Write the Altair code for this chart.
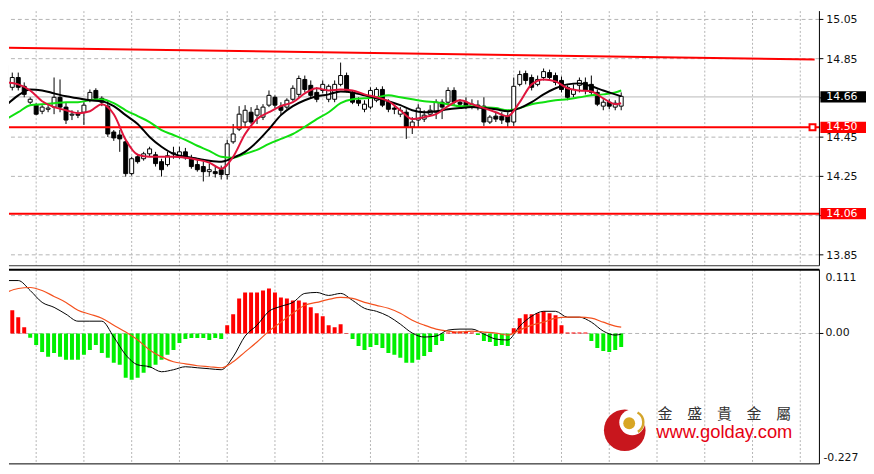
import altair as alt
import pandas as pd

# ---------------- data ----------------
bar_idx = list(range(104))
opens = [14.815, 14.704, 14.754, 14.709, 14.628, 14.613, 14.582, 14.592, 14.603, 14.653,
         14.603, 14.562, 14.567, 14.577, 14.638, 14.688, 14.648, 14.608, 14.476, 14.461,
         14.426, 14.264, 14.350, 14.340, 14.365, 14.360, 14.325, 14.310, 14.365, 14.350,
         14.375, 14.345, 14.310, 14.300, 14.274, 14.274, 14.284, 14.259, 14.426, 14.491,
         14.527, 14.577, 14.562, 14.552, 14.613, 14.653, 14.608, 14.603, 14.643, 14.668,
         14.744, 14.714, 14.678, 14.688, 14.643, 14.643, 14.719, 14.764, 14.678, 14.638,
         14.592, 14.603, 14.638, 14.693, 14.628, 14.598, 14.567, 14.577, 14.502, 14.537,
         14.542, 14.567, 14.577, 14.628, 14.628, 14.688, 14.628, 14.628, 14.603, 14.613,
         14.608, 14.527, 14.557, 14.557, 14.557, 14.527, 14.719, 14.774, 14.754, 14.719,
         14.754, 14.779, 14.764, 14.739, 14.704, 14.668, 14.714, 14.729, 14.719, 14.678,
         14.608, 14.628, 14.603, 14.608]
highs = [14.830, 14.779, 14.779, 14.729, 14.653, 14.623, 14.613, 14.613, 14.754, 14.744,
         14.628, 14.587, 14.587, 14.628, 14.693, 14.699, 14.658, 14.638, 14.486, 14.486,
         14.436, 14.350, 14.365, 14.375, 14.401, 14.375, 14.340, 14.375, 14.401, 14.401,
         14.395, 14.360, 14.335, 14.325, 14.315, 14.300, 14.305, 14.436, 14.517, 14.608,
         14.613, 14.603, 14.613, 14.618, 14.688, 14.663, 14.628, 14.648, 14.714, 14.764,
         14.764, 14.739, 14.704, 14.739, 14.719, 14.739, 14.830, 14.779, 14.688, 14.653,
         14.638, 14.704, 14.704, 14.709, 14.643, 14.613, 14.603, 14.592, 14.552, 14.618,
         14.587, 14.613, 14.643, 14.643, 14.704, 14.704, 14.643, 14.653, 14.643, 14.638,
         14.653, 14.562, 14.577, 14.577, 14.577, 14.754, 14.789, 14.789, 14.769, 14.764,
         14.800, 14.794, 14.779, 14.759, 14.714, 14.719, 14.754, 14.754, 14.764, 14.693,
         14.643, 14.643, 14.638, 14.678]
lows = [14.729, 14.688, 14.688, 14.653, 14.618, 14.562, 14.567, 14.577, 14.567, 14.577,
        14.517, 14.537, 14.547, 14.512, 14.628, 14.638, 14.608, 14.451, 14.431, 14.375,
        14.249, 14.254, 14.315, 14.330, 14.350, 14.300, 14.249, 14.300, 14.340, 14.340,
        14.335, 14.289, 14.274, 14.224, 14.249, 14.244, 14.234, 14.234, 14.416, 14.481,
        14.502, 14.517, 14.517, 14.537, 14.603, 14.598, 14.562, 14.592, 14.633, 14.653,
        14.678, 14.648, 14.628, 14.673, 14.628, 14.628, 14.709, 14.678, 14.618, 14.608,
        14.577, 14.592, 14.628, 14.603, 14.577, 14.567, 14.552, 14.441, 14.466, 14.502,
        14.527, 14.557, 14.542, 14.542, 14.618, 14.613, 14.603, 14.592, 14.592, 14.587,
        14.507, 14.517, 14.527, 14.517, 14.502, 14.507, 14.709, 14.719, 14.688, 14.709,
        14.739, 14.739, 14.714, 14.678, 14.638, 14.653, 14.678, 14.668, 14.663, 14.608,
        14.587, 14.592, 14.587, 14.587]
closes = [14.754, 14.754, 14.704, 14.668, 14.643, 14.567, 14.603, 14.598, 14.653, 14.603,
          14.537, 14.567, 14.562, 14.613, 14.678, 14.648, 14.628, 14.466, 14.446, 14.441,
          14.264, 14.340, 14.325, 14.365, 14.390, 14.315, 14.284, 14.355, 14.370, 14.375,
          14.345, 14.300, 14.284, 14.274, 14.284, 14.264, 14.259, 14.416, 14.466, 14.567,
          14.587, 14.527, 14.592, 14.603, 14.663, 14.613, 14.587, 14.638, 14.699, 14.749,
          14.693, 14.663, 14.643, 14.719, 14.709, 14.719, 14.764, 14.688, 14.628, 14.623,
          14.618, 14.688, 14.693, 14.613, 14.592, 14.592, 14.587, 14.502, 14.527, 14.598,
          14.562, 14.587, 14.628, 14.603, 14.688, 14.628, 14.618, 14.608, 14.618, 14.608,
          14.527, 14.552, 14.542, 14.537, 14.527, 14.709, 14.769, 14.739, 14.704, 14.744,
          14.784, 14.754, 14.729, 14.693, 14.653, 14.693, 14.739, 14.688, 14.678, 14.618,
          14.628, 14.608, 14.623, 14.658]

ma_idx = list(range(0, 103, 2)) + [103]
ma_red = [14.729, 14.719, 14.688, 14.633, 14.603, 14.587, 14.572, 14.582, 14.618, 14.567,
          14.436, 14.360, 14.350, 14.350, 14.350, 14.345, 14.335, 14.320, 14.289, 14.350,
          14.466, 14.542, 14.577, 14.608, 14.628, 14.673, 14.699, 14.688, 14.693, 14.688,
          14.668, 14.653, 14.633, 14.587, 14.542, 14.552, 14.567, 14.608, 14.638, 14.618,
          14.598, 14.577, 14.557, 14.628, 14.719, 14.744, 14.734, 14.699, 14.688, 14.683,
          14.648, 14.618, 14.623]
ma_black = [14.613, 14.663, 14.693, 14.688, 14.673, 14.658, 14.648, 14.638, 14.633, 14.608,
            14.562, 14.517, 14.451, 14.401, 14.365, 14.350, 14.340, 14.330, 14.325, 14.345,
            14.375, 14.426, 14.491, 14.562, 14.608, 14.638, 14.658, 14.668, 14.683, 14.678,
            14.663, 14.648, 14.633, 14.613, 14.587, 14.577, 14.582, 14.592, 14.598, 14.603,
            14.598, 14.592, 14.582, 14.598, 14.628, 14.668, 14.699, 14.719, 14.724, 14.709,
            14.688, 14.668, 14.658]
ma_green = [14.542, 14.577, 14.613, 14.618, 14.623, 14.628, 14.628, 14.638, 14.643, 14.623,
            14.587, 14.557, 14.527, 14.486, 14.461, 14.436, 14.406, 14.380, 14.350, 14.345,
            14.365, 14.385, 14.416, 14.441, 14.466, 14.502, 14.542, 14.577, 14.623, 14.643,
            14.648, 14.653, 14.663, 14.653, 14.643, 14.633, 14.628, 14.618, 14.608, 14.608,
            14.603, 14.598, 14.587, 14.598, 14.618, 14.628, 14.638, 14.643, 14.653, 14.663,
            14.668, 14.678, 14.688]

macd_hist = [0.0404, 0.0404, 0.0283, 0.0110, -0.0074, -0.0200, -0.0321, -0.0407, -0.0338, -0.0407,
             -0.0459, -0.0459, -0.0459, -0.0372, -0.0286, -0.0200, -0.0338, -0.0424, -0.0510, -0.0545,
             -0.0769, -0.0804, -0.0769, -0.0683, -0.0597, -0.0545, -0.0459, -0.0372, -0.0286, -0.0166,
             -0.0097, -0.0079, -0.0079, -0.0079, -0.0114, -0.0079, -0.0097, 0.0145, 0.0335, 0.0610,
             0.0714, 0.0714, 0.0714, 0.0748, 0.0783, 0.0714, 0.0628, 0.0610, 0.0576, 0.0576,
             0.0541, 0.0455, 0.0352, 0.0300, 0.0145, 0.0110, 0.0162, 0.0010, -0.0097, -0.0217,
             -0.0286, -0.0235, -0.0200, -0.0252, -0.0338, -0.0372, -0.0424, -0.0510, -0.0510, -0.0459,
             -0.0390, -0.0321, -0.0200, -0.0131, 0.0015, 0.0024, 0.0033, 0.0024, 0.0015, -0.0028,
             -0.0131, -0.0148, -0.0217, -0.0200, -0.0217, 0.0093, 0.0266, 0.0335, 0.0335, 0.0352,
             0.0386, 0.0352, 0.0317, 0.0145, 0.0015, 0.0015, 0.0015, 0.0015, -0.0131, -0.0252,
             -0.0303, -0.0321, -0.0286, -0.0235]
macd_main = [0.0921, 0.0921, 0.0748, 0.0541, 0.0455, 0.0335, 0.0214, 0.0214, 0.0214, -0.0062,
             -0.0372, -0.0545, -0.0579, -0.0666, -0.0631, -0.0579, -0.0597, -0.0614, -0.0631, -0.0407,
             -0.0045, 0.0145, 0.0386, 0.0472, 0.0541, 0.0697, 0.0714, 0.0662, 0.0697, 0.0576,
             0.0438, 0.0386, 0.0300, 0.0162, 0.0007, -0.0062, -0.0045, 0.0059, 0.0076, 0.0076,
             -0.0010, -0.0097, -0.0114, 0.0128, 0.0300, 0.0386, 0.0386, 0.0283, 0.0283, 0.0197,
             0.0041, -0.0028, -0.0010]
macd_signal = [0.0714, 0.0783, 0.0800, 0.0748, 0.0645, 0.0541, 0.0404, 0.0335, 0.0266, 0.0145,
               0.0024, -0.0114, -0.0286, -0.0407, -0.0493, -0.0528, -0.0562, -0.0579, -0.0597, -0.0493,
               -0.0321, -0.0148, 0.0041, 0.0197, 0.0352, 0.0490, 0.0541, 0.0593, 0.0628, 0.0610,
               0.0541, 0.0490, 0.0438, 0.0352, 0.0231, 0.0145, 0.0076, 0.0041, 0.0024, 0.0041,
               0.0024, 0.0007, -0.0028, 0.0059, 0.0145, 0.0197, 0.0266, 0.0283, 0.0283, 0.0266,
               0.0197, 0.0128, 0.0110]

price_ticks = [15.05, 14.85, 14.65, 14.45, 14.25, 14.05, 13.85]
price_labels = [15.05, 14.85, 14.45, 14.25, 13.85]
price_grid = [15.05, 14.85, 14.45, 14.25, 14.05, 13.85]
time_grid = [5, 13, 21, 29, 37, 45, 53, 61, 69, 77, 85, 93, 101, 109, 117, 125, 133]
level_prices = [14.50, 14.06]
trend_idx = [0, 135.4]
trend_price = [14.906, 14.846]
bid_price = [14.655]
tag_price = [14.655, 14.50, 14.06]
tag_text = ["14.66", "14.50", "14.06"]
tag_color = ["#000000", "#ff0000", "#ff0000"]
macd_tick_values = [0.111, 0.0, -0.227]
macd_tick_text = ["0.111", "0.00", "-0.227"]

# ---------------- chart ----------------
W, H1, H2 = 818, 257, 196
xs = alt.Scale(domain=[1.2787, 135.377], nice=False, zero=False)
ys = alt.Scale(domain=[13.7944, 15.0924], nice=False, zero=False)
ym = alt.Scale(domain=[-0.227, 0.111], nice=False, zero=False)
LF = "DejaVu Sans"
GRID = "#b4b4b4"
LBL = "#111111"


def X(f):
    return alt.X(f, type="quantitative", scale=xs, axis=None)


def YP(f):
    return alt.Y(f, type="quantitative", scale=ys, axis=None)


def YM(f):
    return alt.Y(f, type="quantitative", scale=ym, axis=None)


one = pd.DataFrame({"a": [0]})
candles = pd.DataFrame({"i": bar_idx, "o": opens, "h": highs, "l": lows, "c": closes})
ma = pd.DataFrame({"i": ma_idx, "r": ma_red, "k": ma_black, "g": ma_green,
                   "m": macd_main, "s": macd_signal})
hist = pd.DataFrame({"i": bar_idx, "v": macd_hist})
tags = pd.DataFrame({"p": tag_price, "t": tag_text, "col": tag_color})
pticks = pd.DataFrame({"p": price_ticks})
plabels = pd.DataFrame({"p": price_labels})
mticks = pd.DataFrame({"v": macd_tick_values, "t": macd_tick_text})

vgrid = alt.Chart(pd.DataFrame({"t": time_grid})).mark_rule(
    color=GRID, strokeDash=[2, 2], strokeWidth=1).encode(x=X("t"))

hgrid = alt.Chart(pd.DataFrame({"p": price_grid})).mark_rule(
    color=GRID, strokeDash=[4, 3], strokeWidth=1).encode(y=YP("p"))
bidline = alt.Chart(pd.DataFrame({"p": bid_price})).mark_rule(
    color="#b8b8b8", strokeWidth=1).encode(y=YP("p"))

wicks = alt.Chart(candles).mark_rule(color="black", strokeWidth=1, clip=True).encode(
    x=X("i"), y=YP("l"), y2="h:Q")
bodies = alt.Chart(candles).mark_bar(size=4, stroke="black", strokeWidth=1, clip=True).encode(
    x=X("i"), y=YP("o"), y2="c:Q",
    fill=alt.condition("datum.c >= datum.o", alt.value("white"), alt.value("black")))

levels = alt.Chart(pd.DataFrame({"p": level_prices})).mark_rule(
    color="#ff0000", strokeWidth=2).encode(y=YP("p"))
trend = alt.Chart(pd.DataFrame({"i": trend_idx, "p": trend_price})).mark_line(
    color="#ff0000", strokeWidth=2, clip=True).encode(x=X("i"), y=YP("p"))

line_green = alt.Chart(ma).mark_line(color="#10e010", strokeWidth=2, clip=True,
                                      interpolate="monotone").encode(x=X("i"), y=YP("g"))
line_black = alt.Chart(ma).mark_line(color="#000000", strokeWidth=2, clip=True,
                                      interpolate="monotone").encode(x=X("i"), y=YP("k"))
line_red = alt.Chart(ma).mark_line(color="#e0143c", strokeWidth=2, clip=True,
                                    interpolate="monotone").encode(x=X("i"), y=YP("r"))

# right price axis drawn by hand (ticks, labels, spine)
p_tick = alt.Chart(pticks).mark_rule(color="#000", strokeWidth=1).encode(
    x=alt.value(W), x2=alt.value(W + 4), y=YP("p"))
p_lab = alt.Chart(plabels).mark_text(align="left", baseline="middle", font=LF, fontSize=11,
                                      color=LBL, dy=1).encode(
    x=alt.value(W + 7), y=YP("p"), text=alt.Text("p:Q", format=".2f"))
spine1 = alt.Chart(one).mark_rule(color="#000", strokeWidth=1).encode(
    x=alt.value(W), y=alt.value(0), y2=alt.value(H1))

tag_box = alt.Chart(tags).transform_calculate(
    lo="datum.p - 0.029", hi="datum.p + 0.029").mark_rect().encode(
    x=alt.value(W + 1), x2=alt.value(W + 47), y=YP("lo"), y2="hi:Q",
    fill=alt.Color("col:N", scale=None))
tag_txt = alt.Chart(tags).mark_text(align="left", baseline="middle", font=LF, fontSize=11,
                                    color="white").encode(
    x=alt.value(W + 7), y=YP("p"), text="t:N")
marker = alt.Chart(pd.DataFrame({"p": [level_prices[0]]})).mark_square(
    size=36, fill="white", stroke="#ff0000", strokeWidth=2, opacity=1).encode(
    x=alt.value(811), y=YP("p"))
edge1 = alt.Chart(one).mark_rule(color="#333", strokeWidth=1).encode(
    x=alt.value(0), x2=alt.value(W), y=alt.value(H1))

top = alt.layer(vgrid, hgrid, bidline, wicks, bodies, levels, trend,
                line_green, line_black, line_red, p_tick, p_lab, spine1,
                tag_box, tag_txt, marker, edge1).properties(width=W, height=H1)

# MACD panel
zero = alt.Chart(pd.DataFrame({"v": [0.0]})).mark_rule(
    color=GRID, strokeDash=[4, 3], strokeWidth=1).encode(y=YM("v"))
bars = alt.Chart(hist).mark_bar(size=4, clip=True).encode(
    x=X("i"), y=YM("v"), y2=alt.datum(0),
    color=alt.condition("datum.v >= 0", alt.value("#ff0000"), alt.value("#00f000")))
m_main = alt.Chart(ma).mark_line(color="#000", strokeWidth=1, clip=True,
                                  interpolate="monotone").encode(x=X("i"), y=YM("m"))
m_sig = alt.Chart(ma).mark_line(color="#f4511e", strokeWidth=1.2, clip=True,
                                 interpolate="monotone").encode(x=X("i"), y=YM("s"))

m_tick = alt.Chart(mticks).transform_filter("datum.v == 0").mark_rule(
    color="#000", strokeWidth=1).encode(x=alt.value(W), x2=alt.value(W + 4), y=YM("v"))
m_lab_top = alt.Chart(mticks).transform_filter("datum.v > 0").mark_text(
    align="left", baseline="top", font=LF, fontSize=11, color=LBL, dy=2).encode(
    x=alt.value(W + 6), y=YM("v"), text="t:N")
m_lab_mid = alt.Chart(mticks).transform_filter("datum.v == 0").mark_text(
    align="left", baseline="middle", font=LF, fontSize=11, color=LBL).encode(
    x=alt.value(W + 6), y=YM("v"), text="t:N")
m_lab_bot = alt.Chart(mticks).transform_filter("datum.v < 0").mark_text(
    align="left", baseline="bottom", font=LF, fontSize=11, color=LBL, dy=-1).encode(
    x=alt.value(W + 4), y=YM("v"), text="t:N")
spine2 = alt.Chart(one).mark_rule(color="#000", strokeWidth=1).encode(
    x=alt.value(W), y=alt.value(0), y2=alt.value(H2))

edge2 = alt.Chart(one).mark_rule(color="#000", strokeWidth=2).encode(
    x=alt.value(0), x2=alt.value(W), y=alt.value(0))
edge3 = alt.Chart(one).mark_rule(color="#000", strokeWidth=1).encode(
    x=alt.value(0), x2=alt.value(W), y=alt.value(H2))

logo_red = alt.Chart(one).mark_circle(size=1764, color="#c8161d", opacity=1).encode(
    x=alt.value(621.5), y=alt.value(162))
logo_white = alt.Chart(one).mark_circle(size=676, color="white", opacity=1).encode(
    x=alt.value(629), y=alt.value(154))
logo_ring = alt.Chart(one).mark_arc(radius=12.5, radius2=10, theta=0.5, theta2=2.6,
                                    color="#d4a52b").encode(x=alt.value(629), y=alt.value(154))
logo_ball = alt.Chart(one).mark_circle(size=144, color="#d8a623", opacity=1).encode(
    x=alt.value(626), y=alt.value(155))
logo_cn = alt.Chart(one).mark_text(text="金　盛　貴　金　屬", font="Noto Sans CJK TC", fontSize=15,
                                   color="#333333", align="center", baseline="middle").encode(
    x=alt.value(722), y=alt.value(145.5))
logo_url = alt.Chart(one).mark_text(text="www.golday.com", font="Liberation Sans", fontSize=18.5,
                                    color="#e60012", align="center",
                                    baseline="alphabetic").encode(
    x=alt.value(722), y=alt.value(170))

bottom = alt.layer(vgrid, zero, bars, m_main, m_sig, logo_red, logo_white, logo_ring, logo_ball,
                   logo_cn, logo_url, edge2, edge3, spine2, m_tick,
                   m_lab_top, m_lab_mid, m_lab_bot).properties(width=W, height=H2)

chart = alt.vconcat(top, bottom, spacing=4, bounds="flush").properties(
    padding=0, background="white").configure_view(stroke=None)

chart.save("out.html", embed_options={"renderer": "svg", "actions": False})
